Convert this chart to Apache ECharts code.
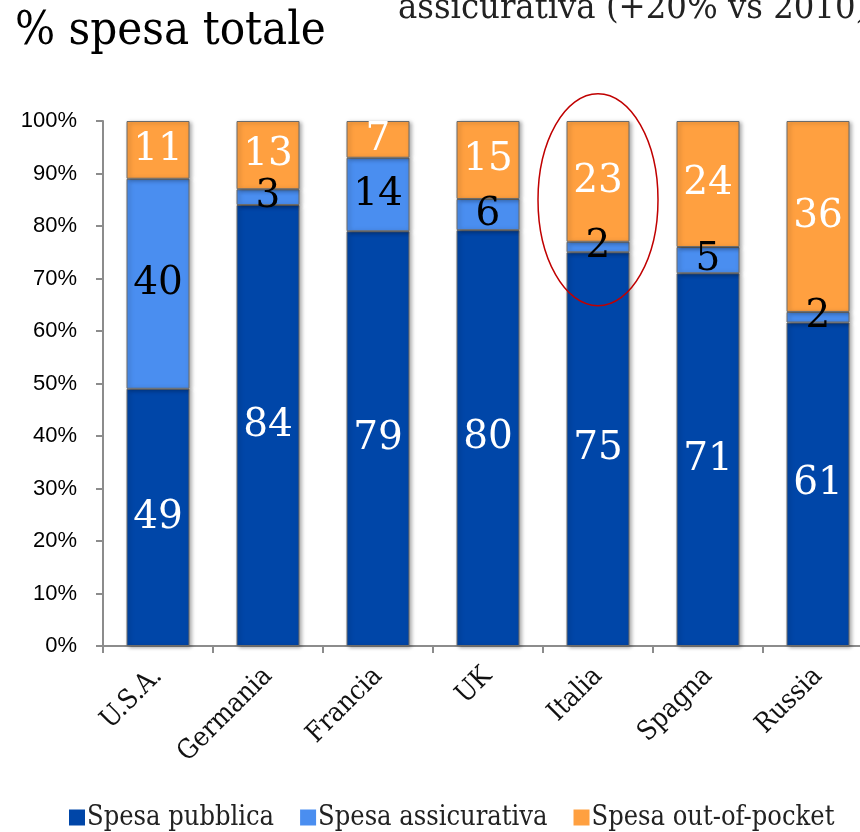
<!DOCTYPE html>
<html>
<head>
<meta charset="utf-8">
<script src="https://cdn.jsdelivr.net/npm/echarts@6/dist/echarts.min.js"></script>
<style>
  html, body { margin: 0; padding: 0; background: #fff; }
  #main { width: 860px; height: 832px; }
</style>
</head>
<body>
<div id="main"></div>
<script>
// dati
const paesi = ['U.S.A.', 'Germania', 'Francia', 'UK', 'Italia', 'Spagna', 'Russia'];
const spesaPubblica = [49, 84, 79, 80, 75, 71, 61];
const spesaAssicurativa = [40, 3, 14, 6, 2, 5, 2];
const spesaOutOfPocket = [11, 13, 7, 15, 23, 24, 36];
const tickPercent = [0, 10, 20, 30, 40, 50, 60, 70, 80, 90, 100];

const slab = '"DejaVu Serif Condensed", "DejaVu Serif", serif';

// ogni barra normalizzata al 100%
const totali = paesi.map((_, i) => spesaPubblica[i] + spesaAssicurativa[i] + spesaOutOfPocket[i]);
const pct = arr => arr.map((v, i) => v / totali[i] * 100);

const chartDom = document.getElementById('main');
const myChart = echarts.init(chartDom);

const barStyle = color => ({
  color: color,
  borderColor: '#6b6b6b',
  borderWidth: 1,
  shadowBlur: 4,
  shadowOffsetX: 2,
  shadowOffsetY: 1,
  shadowColor: 'rgba(0,0,0,0.35)'
});

const mkSerie = (name, raw, color, labelColor) => ({
  name: name,
  type: 'bar',
  stack: 'tot',
  barWidth: 63,
  data: pct(raw),
  itemStyle: barStyle(color),
  label: {
    show: true,
    position: 'inside',
    color: labelColor,
    fontFamily: '"DejaVu Serif", serif',
    fontSize: 39,
    formatter: p => raw[p.dataIndex]
  }
});

const option = {
  animation: false,
  grid: { left: 103, top: 121, width: 770, height: 525, containLabel: false, outerBoundsMode: 'none' },
  legend: {
    left: 64,
    bottom: -4,
    itemWidth: 16,
    itemHeight: 16,
    itemGap: 26,
    icon: 'rect',
    itemStyle: { borderWidth: 0, shadowBlur: 0, shadowOffsetX: 0, shadowOffsetY: 0 },
    textStyle: { fontFamily: slab, fontSize: 27, color: '#222', padding: [0, 0, 0, -3] },
    data: ['Spesa pubblica', 'Spesa assicurativa', 'Spesa out-of-pocket']
  },
  xAxis: {
    type: 'category',
    data: paesi,
    axisLine: { lineStyle: { color: '#8c8c8c', width: 2 } },
    axisTick: { show: true, length: 7, lineStyle: { color: '#8c8c8c', width: 2 } },
    axisLabel: {
      rotate: 45,
      margin: 26,
      fontFamily: slab,
      fontSize: 27,
      color: '#111'
    }
  },
  yAxis: {
    type: 'value',
    min: 0,
    max: 100,
    interval: 10,
    splitLine: { show: false },
    axisLine: { show: true, lineStyle: { color: '#8c8c8c', width: 2 } },
    axisTick: { show: true, length: 7, lineStyle: { color: '#8c8c8c', width: 2 } },
    axisLabel: {
      margin: 26,
      fontFamily: '"Liberation Sans", Arial, sans-serif',
      fontSize: 22,
      color: '#000',
      formatter: v => tickPercent.includes(v) ? v + '%' : ''
    }
  },
  graphic: [
    {
      id: 'titolo',
      type: 'text',
      left: 15,
      top: 8,
      style: { text: '% spesa totale', fontFamily: slab, fontSize: 47, fill: '#000' }
    },
    {
      id: 'nota',
      type: 'text',
      left: 398,
      top: -9,
      style: { text: 'assicurativa (+20% vs 2010)', fontFamily: slab, fontSize: 36, fill: '#222' }
    }
  ],
  series: [
    mkSerie('Spesa pubblica', spesaPubblica, '#0046a8', '#fff'),
    mkSerie('Spesa assicurativa', spesaAssicurativa, '#4a8ef0', '#000'),
    mkSerie('Spesa out-of-pocket', spesaOutOfPocket, '#ffa040', '#fff')
  ]
};

option && myChart.setOption(option);

// cerchio rosso attorno all'Italia
const centro = myChart.convertToPixel({ xAxisIndex: 0, yAxisIndex: 0 }, ['Italia', 85]);
myChart.setOption({
  graphic: [
    {
      id: 'cerchio',
      type: 'ellipse',
      shape: { cx: centro[0], cy: centro[1], rx: 60, ry: 106 },
      style: { fill: 'none', stroke: '#c00000', lineWidth: 1.5 },
      z: 100
    }
  ]
});
</script>
</body>
</html>
